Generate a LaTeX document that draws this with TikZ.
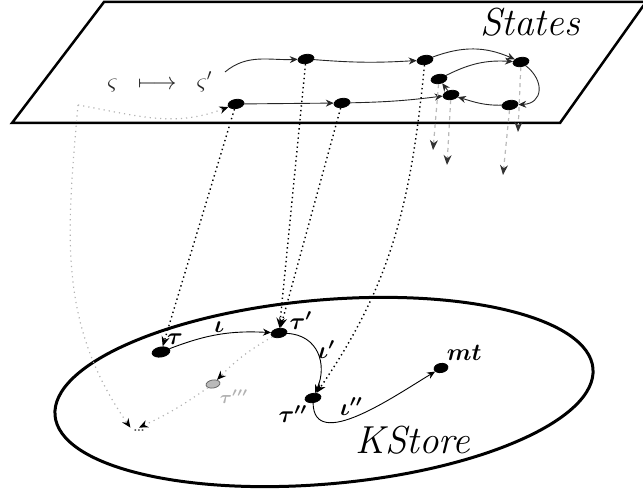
\documentclass[tikz,border=0pt]{standalone}
\usepackage{amsmath,amssymb}
\usetikzlibrary{arrows.meta,shapes.geometric,calc}
\tikzset{
  stnode/.style={draw, fill=black, ellipse, inner sep=0pt, minimum width=8pt, minimum height=4.6pt, rotate=10},
  ghostnode/.style={stnode, fill=gray!55, draw=black!60},
  tr/.style={-{Stealth[length=4pt,width=3.5pt]}, line width=0.45pt, black!85},
  proj/.style={-{Stealth[length=5pt,width=4pt]}, line width=0.7pt, dash pattern=on 0.7pt off 1.6pt},
  ghost/.style={-{Stealth[length=4.5pt,width=3.8pt,color=black]}, line width=0.6pt, gray!60, dash pattern=on 0.6pt off 2pt},
  succ/.style={-{Stealth[length=5pt,width=4pt,color=black!80]}, line width=0.6pt, gray!55, dash pattern=on 2pt off 2pt},
  lab/.style={font=\large\boldmath, inner sep=1pt},
  big/.style={font=\fontsize{19.5}{23}\selectfont\itshape},
}
\begin{document}
\begin{tikzpicture}[x=0.5pt,y=0.5pt]
  \useasboundingbox (0,0) rectangle (643,493);
  % the two planes
  \draw[line width=1.25pt] (12,370) -- (560,370) -- (646,491) -- (104,491) -- cycle;
  \draw[line width=1.5pt, rotate around={5:(324,101)}] (324,101) ellipse [x radius=270, y radius=92];
  \node[big] (states) at (530,471) {States};
  \node[big] (kstore) at (413,53) {KStore};

  % states
  \node[font=\large, text=black!85] (trans) at (160,411) {$\varsigma\;\;\longmapsto\;\;\varsigma'$};
  \coordinate (sfree) at (225,421);
  \coordinate (corner) at (78,388);
  \node[stnode] (st1) at (306,434) {};
  \node[stnode] (st2) at (425,433) {};
  \node[stnode] (st3) at (521,431) {};
  \node[stnode] (st4) at (439,414) {};
  \node[stnode] (st5) at (451,398) {};
  \node[stnode] (st6) at (510,388) {};
  \node[stnode] (st7) at (236,389) {};
  \node[stnode] (st8) at (342,390) {};
  \coordinate (e3) at (518,361);
  \coordinate (e4) at (433,343);
  \coordinate (e5) at (447,328);
  \coordinate (e6) at (503,318);

  \draw[tr] (sfree) to[out=40,in=180] (st1);
  \draw[tr] (st1) to[bend right=4] (st2);
  \draw[tr] (st2) to[bend left=22] (st3);
  \draw[tr] (st4) to[bend left=15] (st3);
  \draw[tr] (st3) to[out=-40,in=0,looseness=1.6] (st6);
  \draw[tr] (st6) to[out=178,in=-20] (st5);
  \draw[tr] (st5) -- (st4);
  \draw[tr] (st7) -- (st8);
  \draw[tr] (st8) to[bend right=3] (st5);
  \foreach \a/\b in {st3/e3, st4/e4, st5/e5, st6/e6}
    \draw[succ] (\a) -- (\b);

  % store
  \node[stnode, minimum width=9pt, minimum height=5pt, label={[lab]above right:$\tau$}] (t0) at (161,141) {};
  \node[stnode, label={[lab]right:$\tau'$}] (t1) at (279,160) {};
  \node[stnode, label={[lab]below left:$\tau''$}] (t2) at (313,95) {};
  \node[stnode, minimum width=7pt, label={[lab]above right:$mt$}] (tm) at (441,125) {};
  \node[ghostnode, minimum width=7pt, minimum height=4pt, label={[font=\small\boldmath, text=gray!60, inner sep=1pt]below right:$\tau'''$}] (tg) at (213,109) {};
  \node[font=\small, text=black!70, inner sep=1pt] (dots) at (139,62) {\ldots};

  \draw[tr, black] (t0) to[bend left=12] node[lab, above] {$\iota$} (t1);
  \draw[tr, black] (t1) to[out=-5,in=65,looseness=1.2] node[lab, right, pos=0.45] {$\iota'$} (t2);
  \draw[tr, black] (t2) to[out=-90,in=210] node[lab, above, pos=0.45] {$\iota''$} (tm);

  % projections
  \draw[proj] (st7) -- (t0);
  \draw[proj] (st1) -- (t1);
  \draw[proj] (st8) -- (t1);
  \draw[proj] (st2) to[out=-96,in=55] (t2);
  \draw[ghost] (corner) to[out=-10,in=200] (st7);
  \draw[ghost] (corner) to[out=-95,in=125] (dots.north west);
  \draw[ghost] (t1) to[bend right=8] (tg);
  \draw[ghost] (tg) to[bend left=5] (dots.north);
\end{tikzpicture}
\end{document}
